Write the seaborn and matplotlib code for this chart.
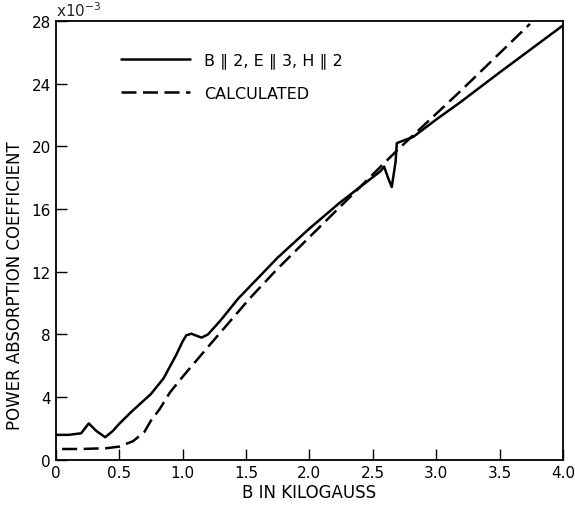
import numpy as np
import pandas as pd
import seaborn as sns
import matplotlib.pyplot as plt

b_meas = [0.0, 0.1, 0.2, 0.26, 0.32, 0.39, 0.45, 0.5, 0.6, 0.75, 0.85, 0.95,
          1.0, 1.03, 1.07, 1.1, 1.15, 1.2, 1.3, 1.44, 1.5, 1.75, 2.0, 2.24,
          2.4, 2.56, 2.59, 2.62, 2.65, 2.68, 2.69, 2.82, 3.0, 3.19, 3.5, 4.0]
a_meas = [1.6, 1.6, 1.7, 2.33, 1.85, 1.45, 1.85, 2.3, 3.1, 4.2, 5.2, 6.7,
          7.55, 7.95, 8.05, 7.95, 7.8, 8.0, 8.9, 10.3, 10.8, 12.9, 14.75, 16.4,
          17.4, 18.4, 18.7, 18.0, 17.4, 19.0, 20.2, 20.6, 21.7, 22.8, 24.7, 27.7]

# calculated curve
b_calc = [0.05, 0.2, 0.4, 0.5, 0.61, 0.7, 0.75, 0.82, 0.9, 1.0, 1.2, 1.53,
          1.75, 2.0, 2.2, 2.4, 2.5, 2.7, 3.19, 3.74]
a_calc = [0.7, 0.7, 0.75, 0.85, 1.2, 1.8, 2.5, 3.25, 4.3, 5.3, 7.2, 10.3,
          12.2, 14.2, 15.8, 17.4, 18.2, 19.8, 23.5, 27.8]

lab_meas = 'B \u2225 2, E \u2225 3, H \u2225 2'
lab_calc = 'CALCULATED'

df = pd.concat([
    pd.DataFrame({'B': b_meas, 'A': a_meas, 'curve': lab_meas}),
    pd.DataFrame({'B': b_calc, 'A': a_calc, 'curve': lab_calc}),
])

sns.set_style('ticks')
plt.rcParams['font.family'] = ['DejaVu Sans']

fig = plt.figure(figsize=(5.75, 5.06), dpi=100)
ax = fig.add_axes([0.097, 0.089, 0.882, 0.868])

sns.lineplot(ax=ax, data=df, x='B', y='A', hue='curve', style='curve',
             palette=['black', 'black'], dashes=[(None, None), (6, 2.6)],
             linewidth=1.8, sort=False, estimator=None)

ax.set_xlim(0, 4.0)
ax.set_ylim(0, 28)
ax.set_xticks(np.arange(0, 4.01, 0.5))
ax.set_xticklabels(['0', '0.5', '1.0', '1.5', '2.0', '2.5', '3.0', '3.5', '4.0'])
ax.set_yticks(range(0, 29, 4))
ax.tick_params(axis='both', direction='in', labelsize=11, length=8, width=1,
               color='black', labelcolor='black')
for s in ax.spines.values():
    s.set_linewidth(1.3)
    s.set_color('black')

ax.set_xlabel('B IN KILOGAUSS', fontsize=12, labelpad=2, color='black')
ax.set_ylabel('POWER ABSORPTION COEFFICIENT', fontsize=12, color='black')
ax.yaxis.set_label_coords(-0.062, 0.40)
ax.text(0.0, 1.005, r'x10$^{-3}$', transform=ax.transAxes, fontsize=11,
        ha='left', va='bottom')

leg = ax.legend(title=None, frameon=False, loc='upper left',
                bbox_to_anchor=(0.1, 0.96), handlelength=4.3, fontsize=11.5,
                labelspacing=1.1, handletextpad=0.9)
for t in leg.get_texts():
    t.set_color('black')

fig.savefig('out.png', dpi=100)
